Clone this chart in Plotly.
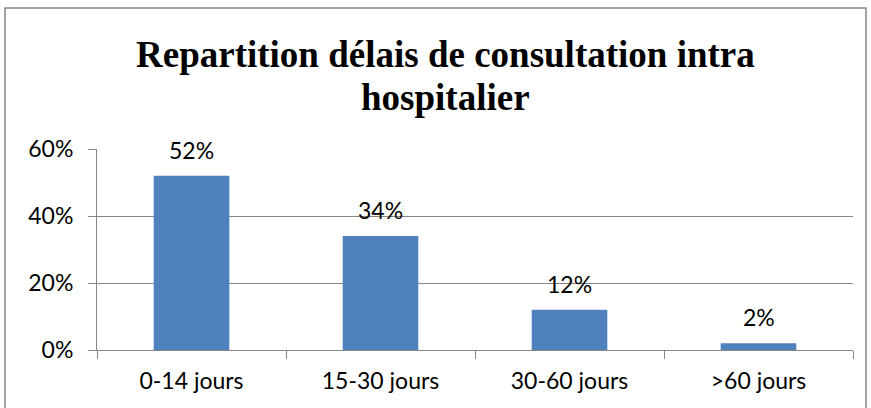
import plotly.graph_objects as go

# delais de consultation intra hospitalier
categories = ["0-14 jours", "15-30 jours", "30-60 jours", ">60 jours"]
values = [0.52, 0.34, 0.12, 0.02]
labels = ["52%", "34%", "12%", "2%"]
y_ticks = [0, 0.2, 0.4, 0.6]
y_tick_labels = ["0%", "20%", "40%", "60%"]
title_lines = ["Repartition délais de consultation intra", "hospitalier"]

W, H = 871, 408
left, right, top, bottom = 97, 18, 149, 58
pw = W - left - right
ph = H - top - bottom

def px_x(p):
    return (p - left) / pw

def px_y(p):
    return (H - bottom - p) / ph

fig = go.Figure()
fig.add_trace(go.Bar(
    x=categories, y=values,
    marker=dict(color="#4F81BD", line=dict(width=0)),
    hoverinfo="skip",
))

# data labels sit a bit above the bars, like in excel
for c, v, t in zip(categories, values, labels):
    fig.add_annotation(x=c, y=v, text=t, showarrow=False, yanchor="middle",
                       yshift=26, font=dict(family="Lato", size=23, color="black"))

fig.update_layout(
    width=W, height=H,
    margin=dict(l=left, r=right, t=top, b=bottom),
    paper_bgcolor="white", plot_bgcolor="white",
    bargap=0.6, showlegend=False,
    font=dict(family="Lato", size=23, color="black"),
)
fig.update_xaxes(showline=True, linecolor="#868686", linewidth=1,
                 ticks="outside", ticklen=8, tickcolor="#868686",
                 tickson="boundaries", showgrid=False, ticklabelstandoff=10,
                 tickfont=dict(family="Lato", size=23))
fig.update_yaxes(range=[0, 0.6], tickvals=y_ticks, ticktext=y_tick_labels,
                 showline=True, linecolor="#868686", linewidth=1,
                 ticks="outside", ticklen=8, tickcolor="#868686",
                 showgrid=True, gridcolor="#868686", gridwidth=1,
                 zeroline=False, ticklabelstandoff=10,
                 tickfont=dict(family="Lato", size=23))

# title, two lines placed by hand
for txt, yc in zip(title_lines, [55, 97]):
    fig.add_annotation(text="<b>" + txt + "</b>", xref="paper", yref="paper",
                       x=px_x(445), y=px_y(yc), xanchor="center", yanchor="middle",
                       showarrow=False,
                       font=dict(family="Liberation Serif", size=37, color="black"))

# outer chart border
fig.add_shape(type="rect", xref="paper", yref="paper",
              x0=px_x(5), x1=px_x(866), y0=px_y(420), y1=px_y(8),
              line=dict(color="#868686", width=1.5), layer="below")

fig.write_html("out.html", config={"displayModeBar": False},
               post_script="document.body.style.margin='0';")
